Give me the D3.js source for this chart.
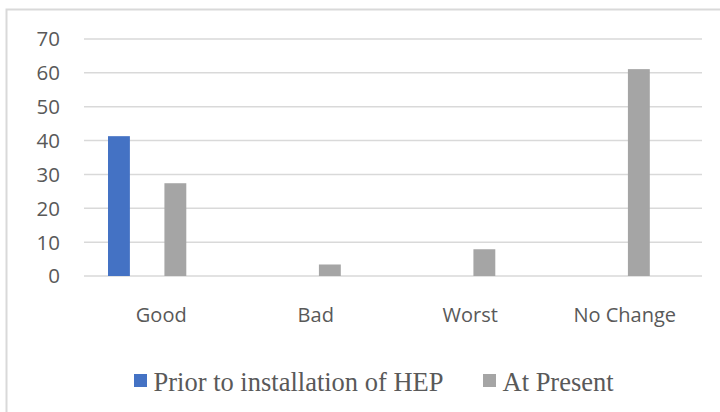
<!DOCTYPE html>
<html>
<head>
<meta charset="utf-8">
<script src="https://cdn.jsdelivr.net/npm/d3@7"></script>
<style>
  body { margin: 0; background: #fff; }
  svg { display: block; }
</style>
</head>
<body>
<svg id="chart"></svg>
<script>
// Data
const categories = ["Good", "Bad", "Worst", "No Change"];
const seriesNames = ["Prior to installation of HEP", "At Present"];
const priorValues = [41.3, 0, 0, 0];
const presentValues = [27.4, 3.4, 7.9, 61.1];
const yTicks = [0, 10, 20, 30, 40, 50, 60, 70];
const colors = ["#4472C4", "#A5A5A5"];

const width = 720, height = 412;
const margin = { top: 39, right: 18, bottom: 136, left: 84 };

const svg = d3.select("#chart").attr("width", width).attr("height", height);

// Chart border (runs off the right and bottom edges)
svg.append("rect")
  .attr("x", 6.5).attr("y", 9.5)
  .attr("width", 740).attr("height", 440)
  .attr("fill", "#fff")
  .attr("stroke", "#d9d9d9")
  .attr("stroke-width", 2);

const x0 = d3.scaleBand()
  .domain(categories)
  .range([margin.left, width - margin.right]);

// bars sit a bit left of the band centre, like the original
const bw = x0.bandwidth();
const x1 = d3.scaleBand()
  .domain(seriesNames)
  .range([bw * 24 / 154.5, bw * 102.3 / 154.5])
  .paddingInner(0.612);

const y = d3.scaleLinear()
  .domain([0, 70])
  .range([height - margin.bottom, margin.top]);

// Gridlines
svg.append("g")
  .selectAll("line")
  .data(yTicks)
  .join("line")
  .attr("x1", margin.left)
  .attr("x2", width - margin.right)
  .attr("y1", d => y(d))
  .attr("y2", d => y(d))
  .attr("stroke", "#d9d9d9")
  .attr("stroke-width", 1.5);

// Y labels
svg.append("g")
  .selectAll("text")
  .data(yTicks)
  .join("text")
  .attr("x", 60)
  .attr("y", d => y(d))
  .attr("dy", "0.36em")
  .attr("text-anchor", "end")
  .attr("font-family", "'Open Sans', sans-serif")
  .attr("font-size", 20.5)
  .attr("fill", "#595959")
  .text(d => d);

// Bars
const rows = categories.map((c, i) => ({ cat: c, vals: [priorValues[i], presentValues[i]] }));

svg.append("g")
  .selectAll("g")
  .data(rows)
  .join("g")
  .attr("transform", d => `translate(${x0(d.cat)},0)`)
  .selectAll("rect")
  .data(d => d.vals.map((v, j) => ({ name: seriesNames[j], v, j })))
  .join("rect")
  .attr("x", d => x1(d.name))
  .attr("width", x1.bandwidth())
  .attr("y", d => y(d.v))
  .attr("height", d => y(0) - y(d.v))
  .attr("fill", d => colors[d.j]);

// Category labels
svg.append("g")
  .selectAll("text")
  .data(categories)
  .join("text")
  .attr("x", d => x0(d) + bw / 2)
  .attr("y", 321.5)
  .attr("text-anchor", "middle")
  .attr("font-family", "'Open Sans', sans-serif")
  .attr("font-size", 20)
  .attr("fill", "#595959")
  .text(d => d);

// Legend
const legendX = [134, 483];
const legend = svg.append("g")
  .selectAll("g")
  .data(seriesNames)
  .join("g")
  .attr("transform", (d, i) => `translate(${legendX[i]},374)`);

legend.append("rect")
  .attr("width", 13).attr("height", 13)
  .attr("fill", (d, i) => colors[i]);

legend.append("text")
  .attr("x", 19.5)
  .attr("y", 16.5)
  .attr("font-family", "'Liberation Serif', 'Times New Roman', serif")
  .attr("font-size", 26.5)
  .attr("fill", "#595959")
  .text(d => d);
</script>
</body>
</html>
